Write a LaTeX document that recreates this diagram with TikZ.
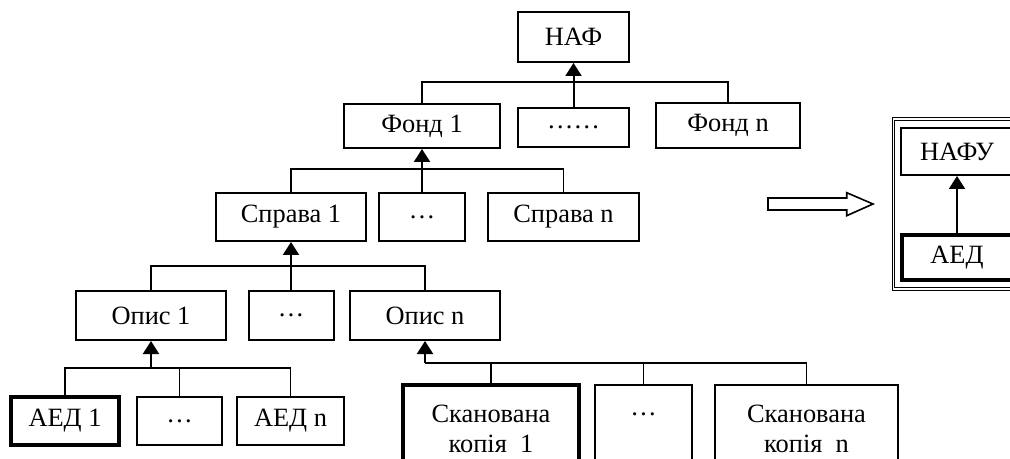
\documentclass[tikz,border=0pt]{standalone}
\usepackage{fontspec}
\setmainfont{Liberation Serif}
\usetikzlibrary{arrows.meta}

\begin{document}
\begin{tikzpicture}[x=0.5pt,y=-0.5pt,
  font=\fontsize{13.2}{15}\selectfont,
  box/.style={draw,line width=1pt,inner sep=0pt,align=center},
  boldbox/.style={box,line width=2pt},
  link/.style={line width=1pt,-{Triangle[width=8pt,length=6.5pt]}},
  bus/.style={line width=0.7pt}]
\clip (0,0) rectangle (1010,459);
\node[box,minimum width=55.5pt,minimum height=25pt] (naf) at (573.5,37) {НАФ};
\node[box,minimum width=78pt,minimum height=22pt] (fond1) at (422,126) {Фонд 1};
\node[box,minimum width=55.5pt,minimum height=19.5pt] (fonddots) at (573.5,127.5) {……};
\node[box,minimum width=72pt,minimum height=22.5pt] (fondn) at (728,125.5) {Фонд n};
\node[box,minimum width=75pt,minimum height=24pt] (sprava1) at (291,217) {Справа 1};
\node[box,minimum width=43pt,minimum height=24pt] (spravadots) at (422,217) {…};
\node[box,minimum width=75.5pt,minimum height=24pt] (spravan) at (563.5,217) {Справа n};
\node[box,minimum width=75pt,minimum height=24.5pt] (opys1) at (151,315.5) {Опис 1};
\node[box,minimum width=42.5pt,minimum height=24.5pt] (opysdots) at (291,315.5) {…};
\node[box,minimum width=75pt,minimum height=24.5pt] (opysn) at (425,315.5) {Опис n};
\node[boldbox,minimum width=54pt,minimum height=24pt] (aed1) at (65,421) {АЕД 1};
\node[box,minimum width=42.5pt,minimum height=24pt] (aeddots) at (179.5,421) {…};
\node[box,minimum width=53.5pt,minimum height=24pt] (aedn) at (290.5,421) {АЕД n};
\node[boldbox,minimum width=88pt,minimum height=44pt] (scan1) at (491,429) {Сканована\\копія\ \ 1};
\node[box,minimum width=48.5pt,minimum height=44pt] (scandots) at (643.5,429) {…\\~};
\node[box,minimum width=91.5pt,minimum height=44pt] (scann) at (806.5,429) {Сканована\\копія\ \ n};
\draw[bus] (fond1.north) -- ++(0,-21) -| (fondn.north);
\draw[link] (fonddots.north) -- (naf.south);
\draw[bus] (sprava1.north) -- ++(0,-23) -| (spravan.north);
\draw[link] (spravadots.north) -- (fond1.south);
\draw[bus] (opys1.north) -- ++(0,-24) -| (opysn.north);
\draw[link] (opysdots.north) -- (sprava1.south);
\coordinate (aedbus) at (151,368);
\draw[bus] (aed1.north) |- (aedbus) -| (aedn.north);
\draw[bus] (aeddots.north) -- (aeddots.north |- aedbus);
\draw[link] (aedbus) -- (opys1.south);
\coordinate (scanbus) at (425,363);
\draw[bus] (scanbus) -| (scann.north);
\draw[bus] (scan1.north) -- (scan1.north |- scanbus);
\draw[bus] (scandots.north) -- (scandots.north |- scanbus);
\draw[link] (scanbus) -- (opysn.south);
\draw[line width=0.8pt] (768,198) -- (846.7,198) -- (846.7,192.7) -- (873,204) -- (846.7,215.7) -- (846.7,210) -- (768,210) -- cycle;
\draw[line width=0.5pt,double,double distance=0.9pt] (893.5,119.2) rectangle (1040,289.3);
\node[box,minimum width=56pt,minimum height=23.5pt] (nafu) at (957,151.5) {НАФУ};
\node[boldbox,minimum width=55pt,minimum height=22.5pt] (aed) at (957,257.5) {АЕД};
\draw[link] (aed.north) -- (nafu.south);
\end{tikzpicture}
\end{document}
